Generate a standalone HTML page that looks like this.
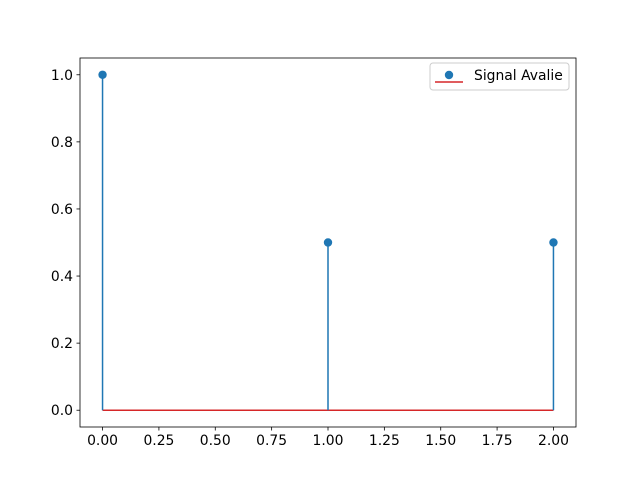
<!DOCTYPE html>
<html><head><meta charset="utf-8"><style>body{margin:0;background:#fff}svg{display:block;font-family:"DejaVu Sans","Liberation Sans",sans-serif}</style></head>
<body>
<svg id="chart" width="640" height="480">
<rect x="0" y="0" width="640" height="480" fill="#fff"/>
<g id="plot"></g>
</svg>
<script>
const xValues = [0, 1, 2];
const yValues = [1.0, 0.5, 0.5];
const xTicks = [0, 0.25, 0.5, 0.75, 1.0, 1.25, 1.5, 1.75, 2.0];
const xTickLabels = ["0.00","0.25","0.50","0.75","1.00","1.25","1.50","1.75","2.00"];
const yTicks = [0, 0.2, 0.4, 0.6, 0.8, 1.0];
const yTickLabels = ["0.0","0.2","0.4","0.6","0.8","1.0"];
const legendLabel = "Signal Avalie";

const L=80,R=576,T=58,B=427;
const xmin=-0.1,xmax=2.1,ymin=-0.05,ymax=1.05;
const sx=v=>L+(v-xmin)/(xmax-xmin)*(R-L);
const sy=v=>B-(v-ymin)/(ymax-ymin)*(B-T);
const NS="http://www.w3.org/2000/svg";
const g=document.getElementById('plot');
function mk(t,a,txt){const e=document.createElementNS(NS,t);for(const k in a)e.setAttribute(k,a[k]);if(txt!==undefined)e.textContent=txt;g.appendChild(e);return e;}

xTicks.forEach((v,i)=>{
  const t=mk('line',{x1:sx(v),x2:sx(v),y1:B,y2:B+3.5,stroke:'#000','stroke-width':0.8});
  
  
  const l=mk('text',{x:sx(v),y:B+18,'font-size':13.9,'text-anchor':'middle',fill:'#000'},xTickLabels[i]);
  
  
});
yTicks.forEach((v,i)=>{
  const t=mk('line',{x1:L-3.5,x2:L,y1:sy(v),y2:sy(v),stroke:'#000','stroke-width':0.8});
  
  
  const l=mk('text',{x:L-7,y:sy(v)+5,'font-size':13.9,'text-anchor':'end',fill:'#000'},yTickLabels[i]);
  
  
});

const base=mk('line',{x1:sx(Math.min(...xValues)),x2:sx(Math.max(...xValues)),y1:sy(0),y2:sy(0),stroke:'#d62728','stroke-width':1.5});



xValues.forEach((x,i)=>{
  const s=mk('line',{x1:sx(x),x2:sx(x),y1:sy(0),y2:sy(yValues[i]),stroke:'#1f77b4','stroke-width':1.5});
  
  
  const m=mk('circle',{cx:sx(x),cy:sy(yValues[i]),r:4.2,fill:'#1f77b4'});
  
  
});

const frame=mk('rect',{x:L,y:T,width:R-L,height:B-T,fill:'none',stroke:'#000','stroke-width':0.8});



const lg=mk('rect',{x:430,y:63,width:139,height:27,rx:3,fill:'#fff','fill-opacity':0.8,stroke:'#ccc','stroke-width':1});


const ll=mk('line',{x1:435,x2:463,y1:82,y2:82,stroke:'#d62728','stroke-width':1.5});


const lm=mk('circle',{cx:449,cy:75,r:4.2,fill:'#1f77b4'});


const lt=mk('text',{x:474,y:80,'font-size':13.9,fill:'#000'},legendLabel);


</script>
</body></html>
